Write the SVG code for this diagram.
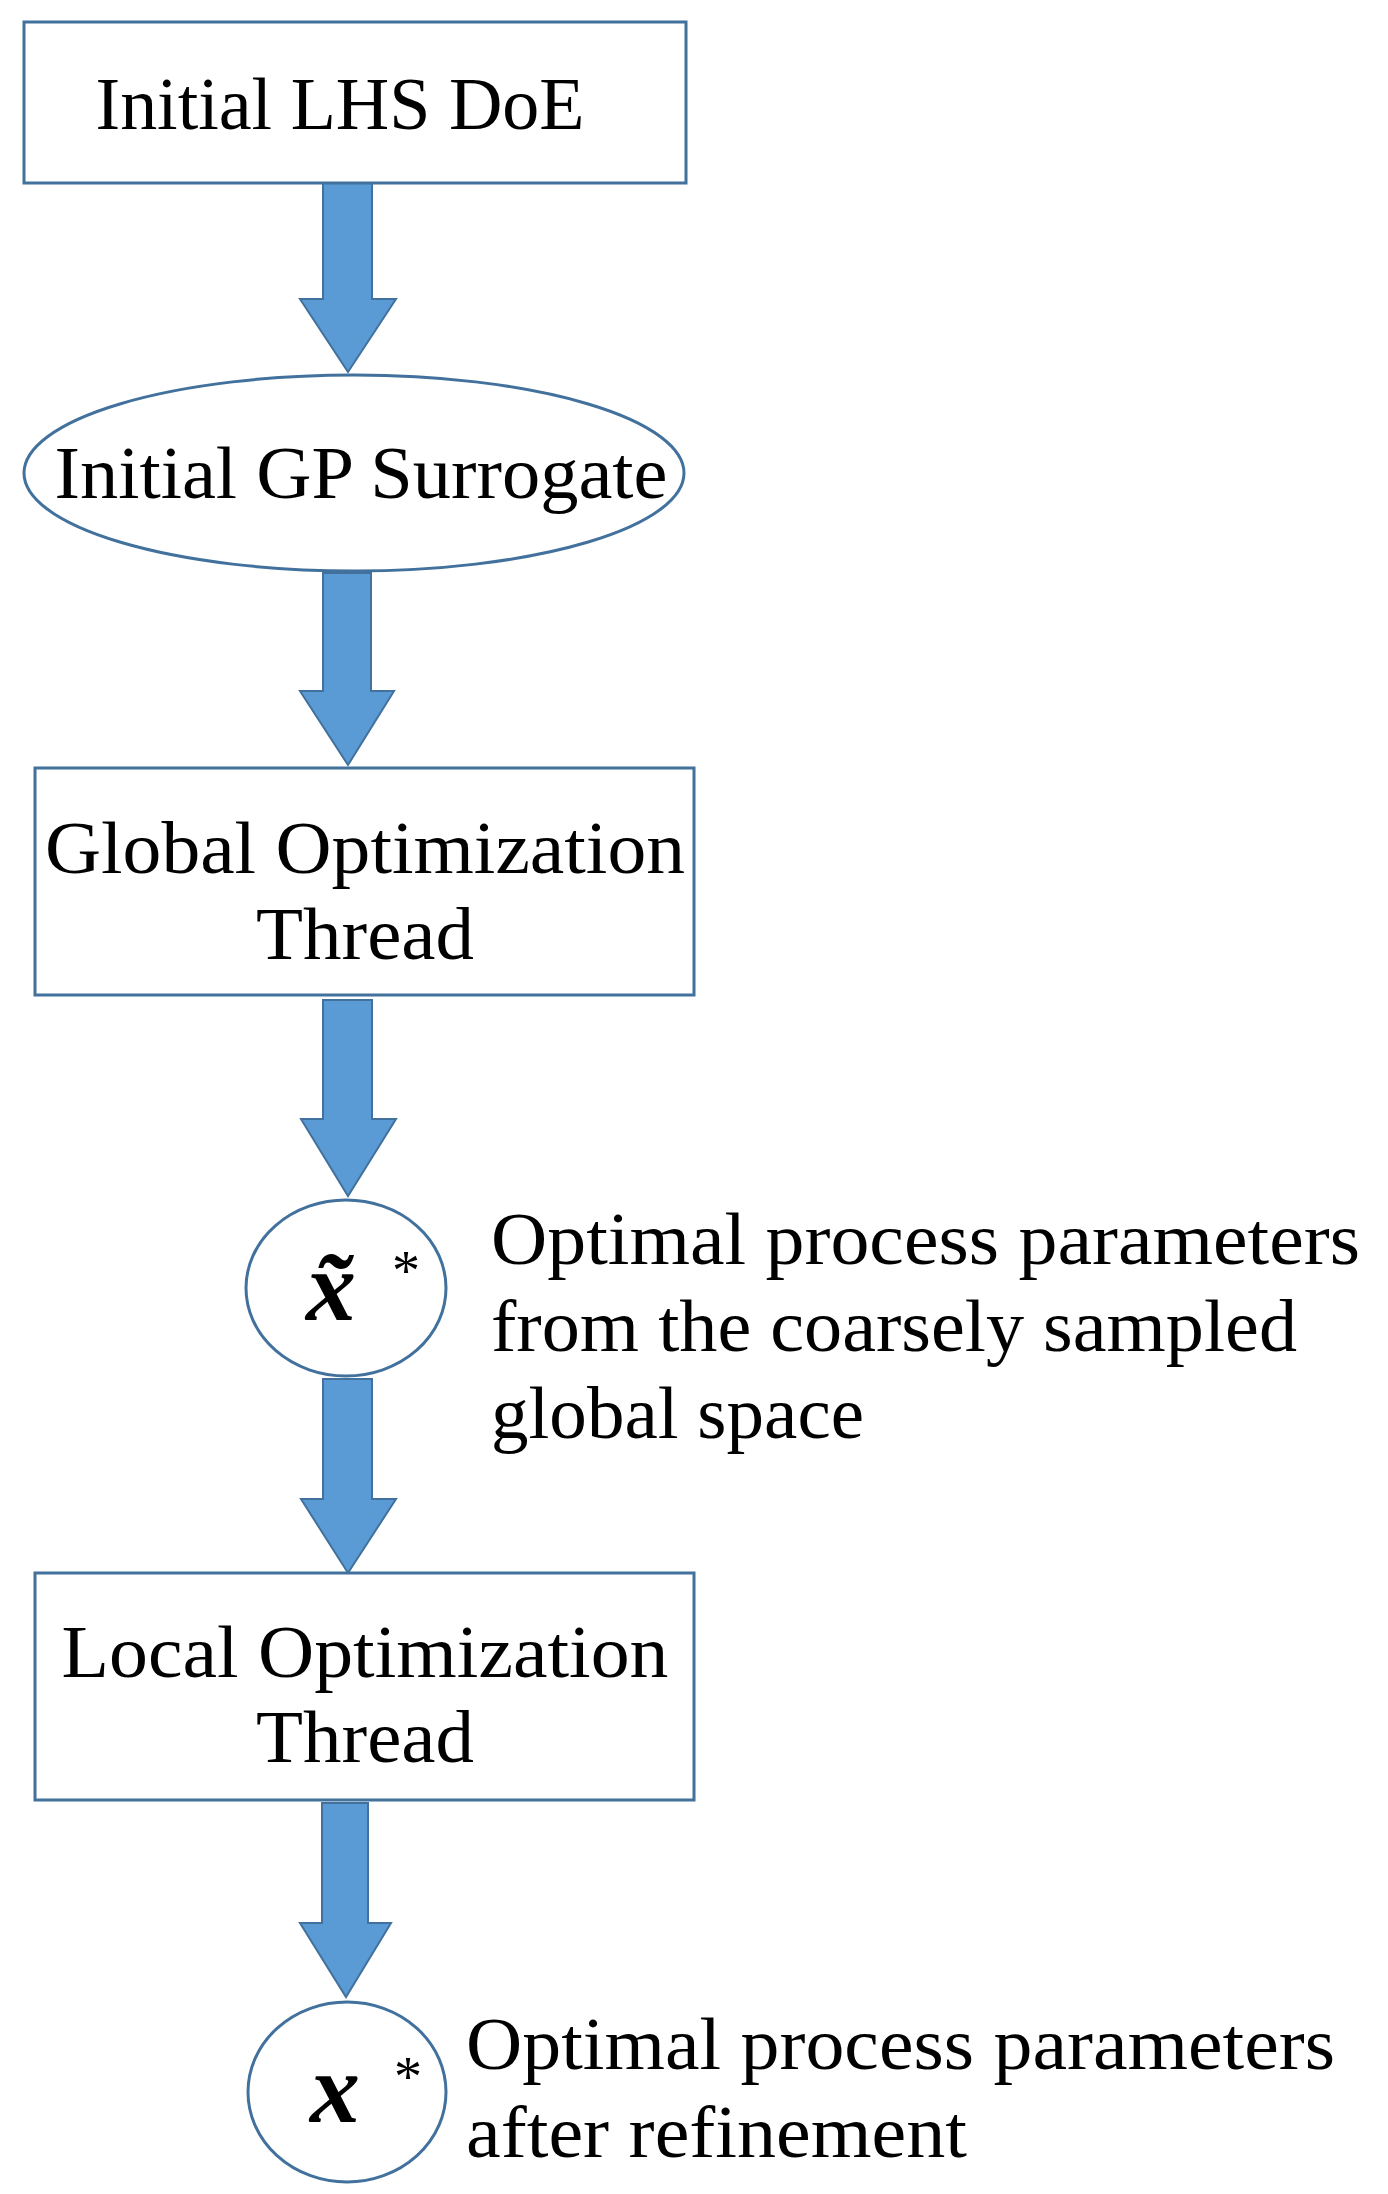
<svg xmlns="http://www.w3.org/2000/svg" width="1388" height="2194" viewBox="0 0 1388 2194">
<style>
.box{fill:#fff;stroke:#41719C;stroke-width:3}
.arr{fill:#5B9BD5;stroke:#41719C;stroke-width:2}
text{font-family:"Liberation Serif","DejaVu Serif",serif;font-size:74px;fill:#000}
.c{text-anchor:middle}
.m{font-weight:bold;font-style:italic;font-size:100px}
.s{font-size:56px}
</style>
<rect width="1388" height="2194" fill="#fff"/>
<g id="connectors">
<path class="arr" d="M323,183 H372 V299 H396 L348,372 L300,299 H323 Z"/>
<path class="arr" d="M323,573 H371 V691 H394 L348,765 L300,691 H323 Z"/>
<path class="arr" d="M323,1000 H372 V1119 H396 L348,1196 L301,1119 H323 Z"/>
<path class="arr" d="M323,1379 H372 V1499 H396 L348,1573 L301,1499 H323 Z"/>
<path class="arr" d="M322,1803 H368 V1923 H391 L346,1997 L300,1923 H322 Z"/>
</g>
<g id="n1"><rect class="box" x="24" y="22" width="662" height="161"/>
<text class="c" x="340" y="129" textLength="489" lengthAdjust="spacingAndGlyphs">Initial LHS DoE</text></g>
<g id="n2"><ellipse class="box" cx="354" cy="473" rx="330" ry="98"/>
<text class="c" x="361" y="498" textLength="613" lengthAdjust="spacingAndGlyphs">Initial GP Surrogate</text></g>
<g id="n3"><rect class="box" x="35" y="768" width="659" height="227"/>
<text class="c" x="365" y="873" textLength="640" lengthAdjust="spacingAndGlyphs">Global Optimization</text>
<text class="c" x="365" y="959" textLength="218" lengthAdjust="spacingAndGlyphs">Thread</text></g>
<g id="n4"><ellipse class="box" cx="346" cy="1288" rx="100" ry="88"/>
<text class="m" x="306" y="1320">x&#771;</text>
<text class="s" x="392" y="1290">*</text>
<text x="491" y="1264" textLength="869" lengthAdjust="spacingAndGlyphs">Optimal process parameters</text>
<text x="491" y="1351" textLength="806" lengthAdjust="spacingAndGlyphs">from the coarsely sampled</text>
<text x="491" y="1438" textLength="373" lengthAdjust="spacingAndGlyphs">global space</text></g>
<g id="n5"><rect class="box" x="35" y="1573" width="659" height="227"/>
<text class="c" x="365" y="1677" textLength="607" lengthAdjust="spacingAndGlyphs">Local Optimization</text>
<text class="c" x="365" y="1762" textLength="218" lengthAdjust="spacingAndGlyphs">Thread</text></g>
<g id="n6"><ellipse class="box" cx="347" cy="2092" rx="99" ry="90"/>
<text class="m" x="310" y="2122">x</text>
<text class="s" x="394" y="2096">*</text>
<text x="466" y="2069" textLength="869" lengthAdjust="spacingAndGlyphs">Optimal process parameters</text>
<text x="466" y="2157" textLength="501" lengthAdjust="spacingAndGlyphs">after refinement</text></g>
</svg>
